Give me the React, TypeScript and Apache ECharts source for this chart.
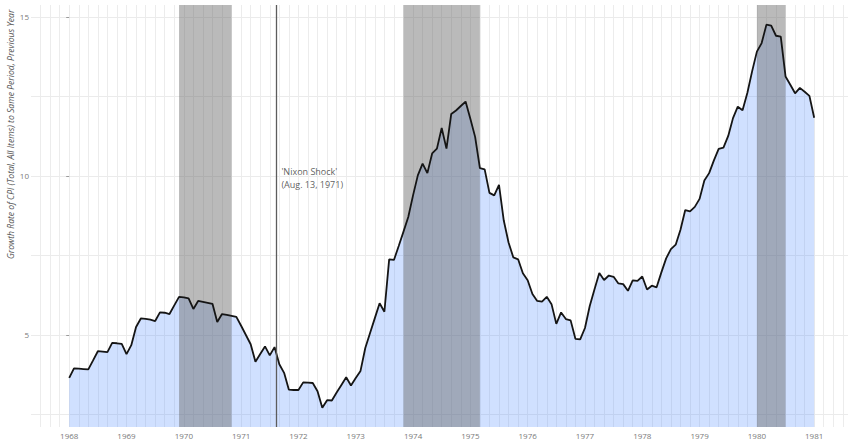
import React, { useEffect, useRef } from 'react';
import * as echarts from 'echarts';

const START_YEAR = 1968;

// Monthly CPI growth rate (%, same period previous year), Jan 1968 .. Jan 1981
const cpiGrowth: number[] = [
  3.65, 3.95, 3.94, 3.93, 3.92, 4.2, 4.49, 4.48, 4.46, 4.75, 4.74, 4.72,
  4.4, 4.68, 5.25, 5.52, 5.51, 5.48, 5.44, 5.71, 5.7, 5.66, 5.93, 6.2,
  6.18, 6.15, 5.82, 6.07, 6.04, 6.01, 5.98, 5.41, 5.66, 5.63, 5.6, 5.57,
  5.29, 5.0, 4.71, 4.16, 4.4, 4.64, 4.36, 4.62, 4.08, 3.81, 3.28, 3.27,
  3.27, 3.51, 3.5, 3.49, 3.23, 2.71, 2.95, 2.94, 3.19, 3.43, 3.67, 3.41,
  3.65, 3.87, 4.59, 5.06, 5.53, 6.0, 5.73, 7.38, 7.36, 7.8, 8.25, 8.71,
  9.39, 10.02, 10.39, 10.09, 10.71, 10.86, 11.51, 10.86, 11.95, 12.06, 12.2, 12.34,
  11.8, 11.23, 10.25, 10.21, 9.47, 9.39, 9.72, 8.6, 7.91, 7.44, 7.38, 6.94,
  6.72, 6.29, 6.07, 6.05, 6.2, 5.97, 5.35, 5.71, 5.5, 5.46, 4.88, 4.86,
  5.22, 5.91, 6.44, 6.95, 6.73, 6.87, 6.83, 6.62, 6.6, 6.39, 6.72, 6.7,
  6.84, 6.43, 6.55, 6.5, 6.97, 7.41, 7.7, 7.84, 8.31, 8.93, 8.89, 9.03,
  9.28, 9.86, 10.09, 10.49, 10.85, 10.89, 11.26, 11.82, 12.18, 12.07, 12.61, 13.29,
  13.91, 14.18, 14.76, 14.73, 14.41, 14.38, 13.13, 12.87, 12.6, 12.77, 12.65, 12.52,
  11.83,
];

const recessionStarts = ['1969-12-01', '1973-11-01', '1980-01-01'];
const recessionEnds = ['1970-11-01', '1975-03-01', '1980-07-01'];

const yearLabels = [1968, 1969, 1970, 1971, 1972, 1973, 1974, 1975, 1976, 1977, 1978, 1979, 1980, 1981];
const yTickLabels = [5, 10, 15];
const yGridValues = [2.5, 5, 7.5, 10, 12.5, 15];

const nixonDate = '1971-08-13';
const nixonLabel = "'Nixon Shock'\n(Aug. 13, 1971)";
const nixonLabelValue = 9.95;

const yAxisTitle = 'Growth Rate of CPI (Total, All Items) to Same Period, Previous Year';

function monthIndex(date: string): number {
  const [y, m, d] = date.split('-').map(Number);
  const daysInMonth = new Date(y, m, 0).getDate();
  return (y - START_YEAR) * 12 + (m - 1) + (d - 1) / daysInMonth;
}

export default function App() {
  const ref = useRef<HTMLDivElement>(null);

  useEffect(() => {
    if (!ref.current) return;
    const chart = echarts.init(ref.current, undefined, { renderer: 'svg' });

    const seriesData = cpiGrowth.map((v, i) => [i, v]);
    const bands = recessionStarts.map((s, i) => [
      { xAxis: monthIndex(s) },
      { xAxis: monthIndex(recessionEnds[i]) },
    ]);
    const nixonX = monthIndex(nixonDate);
    const yearTicks = yearLabels.map((y) => (y - START_YEAR) * 12);

    const option: any = {
      animation: false,
      textStyle: { fontFamily: 'Open Sans' },
      grid: { left: 31, right: 0, top: 5, bottom: 13, containLabel: false },
      xAxis: {
        type: 'value',
        min: -8,
        max: 163.08,
        interval: 2,
        axisLine: { show: false },
        axisTick: { show: false },
        axisLabel: {
          customValues: yearTicks,
          formatter: (v: number) => String(START_YEAR + Math.round(v / 12)),
          fontSize: 8,
          color: '#7a7a7a',
          margin: 4,
        },
        splitLine: {
          show: true,
          showMinLine: false,
          showMaxLine: false,
          lineStyle: { color: '#ececec', width: 1 },
        },
      },
      yAxis: {
        type: 'value',
        min: 2.107,
        max: 15.377,
        axisLine: { show: false },
        axisTick: {
          show: true,
          customValues: yTickLabels,
          length: 3,
          lineStyle: { color: '#9a9a9a', width: 1 },
        },
        axisLabel: {
          customValues: yTickLabels,
          fontSize: 8,
          color: '#7a7a7a',
          margin: 2,
        },
        splitLine: { show: false },
      },
      graphic: [
        {
          type: 'text',
          x: 11,
          y: 259,
          rotation: Math.PI / 2,
          style: {
            text: yAxisTitle,
            fontSize: 8.6,
            fontStyle: 'italic',
            fontFamily: 'Open Sans',
            fill: '#555555',
            align: 'left',
            verticalAlign: 'middle',
          },
        },
      ],
      series: [
        {
          type: 'line',
          data: seriesData,
          symbol: 'none',
          silent: true,
          z: 1,
          lineStyle: { width: 0, opacity: 0 },
          areaStyle: { color: 'rgba(80,140,255,0.27)', opacity: 1, origin: 'start' },
          markLine: {
            silent: true,
            z: 0,
            symbol: ['none', 'none'],
            label: { show: false },
            lineStyle: { color: '#ebebeb', width: 1.2, type: 'solid' },
            data: yGridValues.map((v) => ({ yAxis: v })),
          },
        },
        {
          type: 'line',
          data: seriesData,
          symbol: 'none',
          silent: true,
          z: 2,
          lineStyle: { width: 0, opacity: 0 },
          markArea: {
            silent: true,
            z: 2,
            itemStyle: { color: 'rgba(97,97,97,0.44)', borderWidth: 0 },
            label: { show: false },
            data: bands,
          },
        },
        {
          type: 'line',
          data: seriesData,
          symbol: 'none',
          silent: true,
          z: 3,
          lineStyle: { color: '#151515', width: 1.8 },
          markLine: {
            silent: true,
            symbol: ['none', 'none'],
            label: { show: false },
            lineStyle: { color: '#5c5c5c', width: 1.3, type: 'solid' },
            data: [{ xAxis: nixonX }],
          },
        },
        {
          type: 'scatter',
          data: [[nixonX, nixonLabelValue]],
          symbolSize: 0,
          silent: true,
          z: 4,
          label: {
            show: true,
            position: 'right',
            distance: 5,
            formatter: () => nixonLabel,
            fontSize: 9,
            lineHeight: 13,
            color: '#333333',
            align: 'left',
          },
        },
      ],
    };

    chart.setOption(option);
    return () => chart.dispose();
  }, []);

  return (
    <div
      ref={ref}
      style={{ position: 'fixed', left: 0, top: 0, width: 848, height: 440, background: '#ffffff' }}
    />
  );
}
